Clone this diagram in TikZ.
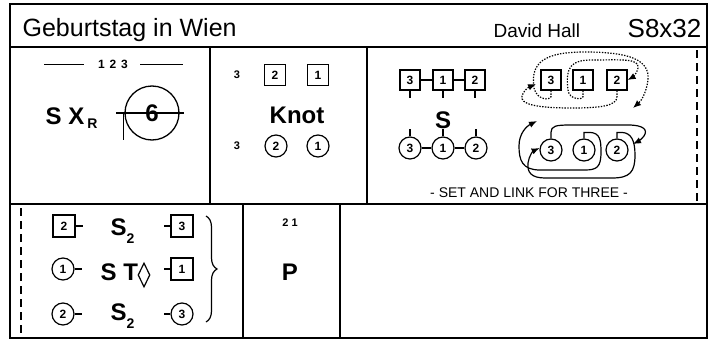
\documentclass[tikz,border=0pt]{standalone}
\usepackage{fontspec}
\setmainfont{Liberation Sans}
\usetikzlibrary{arrows.meta}
\usetikzlibrary{shapes.geometric}
\usetikzlibrary{decorations.pathreplacing}

\begin{document}
\begin{tikzpicture}[x=1pt, y=-1pt, line width=1.2pt,
	big/.style={font=\fontsize{24}{24}\selectfont\bfseries, inner sep=0pt},
	num/.style={font=\fontsize{11}{11}\selectfont\bfseries, inner sep=0pt},
	sq/.style={draw, minimum size=21pt, inner sep=0pt, font=\fontsize{12}{12}\selectfont\bfseries},
	ci/.style={draw, circle, minimum size=22pt, inner sep=0pt, font=\fontsize{12}{12}\selectfont\bfseries},
	tip/.style={-{Latex[length=8pt,width=6.5pt]}},
	dots/.style={tip, dash pattern=on 1.4pt off 1.4pt},
	cut/.style={dash pattern=on 8pt off 5pt},
	frame/.style={line width=1.4pt}]
\fill[white] (0,0) rectangle (715,340);
\useasboundingbox (0,0) rectangle (715,340);
\draw[frame] (10,4) rectangle (707,338);
\draw[frame] (10,47) -- (707,47) (10,204) -- (707,204)
	(210,47) -- (210,204) (367,47) -- (367,204)
	(243,204) -- (243,338) (340,204) -- (340,338);

\node[anchor=base west, inner sep=0pt, font=\fontsize{25}{25}\selectfont] (title) at (22,36) {Geburtstag in Wien};
\node[anchor=base west, inner sep=0pt, font=\fontsize{19}{19}\selectfont] (author) at (493,37) {David Hall};
\node[anchor=base east, inner sep=0pt, font=\fontsize{26}{26}\selectfont] (code) at (702,37) {S8x32};

\node[num, font=\fontsize{12}{12}\selectfont\bfseries] (count) at (113,64) {1\hspace{1.5pt} 2\hspace{1.5pt} 3};
\draw[line width=0.8pt] ([xshift=-14pt]count.west) -- ++(-40,0)
	([xshift=12pt]count.east) -- ++(43,0);
\node[big, anchor=base west] (sx) at (45,124) {S X\hspace{3pt}\raisebox{-4pt}{\fontsize{14}{14}\selectfont R}};
\node[big, draw, circle, minimum size=54pt, line width=1.3pt] (six) at (152,113) {6};
\draw ([xshift=-8pt]six.west) -- ([xshift=4pt]six.east);
\draw ([xshift=-1pt]six.west) -- ++(0,27);

\node[num] (kn3a) at (237,75) {3};
\node[sq] (kns2) at (275,75) {2};
\node[sq] (kns1) at (318,75) {1};
\node[big] (knot) at (297,115) {Knot};
\node[num] (kn3b) at (237,146) {3};
\node[ci] (knc2) at (276,146) {2};
\node[ci] (knc1) at (318,146) {1};

\node[sq, minimum size=20pt] (ls3) at (410,80) {3};
\node[sq, minimum size=20pt] (ls1) at (443,80) {1};
\node[sq, minimum size=20pt] (ls2) at (475,80) {2};
\draw (ls3) -- (ls1) (ls1) -- (ls2);
\draw (ls3.south) -- ++(0,7) (ls1.south) -- ++(0,7) (ls2.south) -- ++(0,7);
\node[big] (set) at (443,120) {S};
\node[ci] (lc3) at (410,148) {3};
\node[ci] (lc1) at (443,148) {1};
\node[ci] (lc2) at (476,148) {2};
\draw (lc3) -- (lc1) (lc1) -- (lc2);
\draw (lc3.north) -- ++(0,-7) (lc1.north) -- ++(0,-7) (lc2.north) -- ++(0,-7);

\node[sq, minimum size=20pt] (ds3) at (551,80) {3};
\node[sq, minimum size=20pt] (ds1) at (583,80) {1};
\node[sq, minimum size=20pt] (ds2) at (617,80) {2};
\coordinate (ta) at (633,108);
\coordinate (tc) at (536,84);
\draw[dots] (ds3.south) -- ++(0,6) .. controls (551,100) and (537,101) .. (534,88)
	.. controls (530,62) and (545,52) .. (585,52) .. controls (630,52) and (650,60) .. (648,80)
	.. controls (646,94) and (641,101) .. (ta);
\draw[dots] (ds1.south) -- ++(0,6) .. controls (583,100) and (569,100) .. (568,90)
	.. controls (565,66) and (572,60) .. (592,60) .. controls (620,60) and (640,58) .. (638,68)
	.. controls (637,73) and (633,77) .. (ds2.east);
\draw[dots] (ds2.south) -- ++(0,6) .. controls (617,106) and (600,108) .. (572,108)
	.. controls (535,108) and (520,104) .. (522,96) .. controls (523,91) and (529,87) .. (tc);

\node[ci] (dc3) at (551,150) {3};
\node[ci] (dc1) at (584,150) {1};
\node[ci] (dc2) at (617,150) {2};
\coordinate (td) at (633,144);
\coordinate (te) at (537,121);
\draw[tip] (dc3.north) -- ++(0,-6) .. controls (551,126) and (556,125) .. (570,125) -- (628,125)
	.. controls (644,125) and (648,130) .. (644,136) .. controls (641,140) and (637,142) .. (td);
\draw[tip] (dc1.north) -- ++(0,-6) -- ++(6,0) .. controls (600,133) and (601,140) .. (601,152)
	.. controls (601,167) and (597,170) .. (585,170) -- (540,170)
	.. controls (522,170) and (519,160) .. (519,146) .. controls (519,133) and (527,126) .. (te);
\draw[tip] (dc2.north) -- ++(0,-6) -- ++(5,0) .. controls (631,133) and (635,140) .. (635,155)
	.. controls (635,172) and (630,178) .. (612,178) -- (545,178)
	.. controls (531,178) and (527,172) .. (528,163) .. controls (529,156) and (533,151) .. (dc3.170);
\node[inner sep=0pt, font=\fontsize{14}{14}\selectfont] (motto) at (529,193) {- SET AND LINK FOR THREE -};
\draw[cut] (697,50) -- (697,202);

\draw[cut] (21,208) -- (21,338);
\node[sq, minimum size=22pt] (a2) at (64,226) {2};
\draw (a2.east) -- ++(7,0);
\node[big, anchor=base west] (as) at (110,235) {S\raisebox{-8pt}{\fontsize{14}{14}\selectfont 2}};
\node[sq, minimum size=22pt] (a3) at (182,226) {3};
\draw (a3.west) -- ++(-6,0);
\node[ci] (b1) at (63,269) {1};
\draw (b1.east) -- ++(7,0);
\node[big, anchor=base west] (bst) at (100,280) {S T};
\node[draw, diamond, minimum width=12pt, minimum height=24pt, inner sep=0pt] (bd) at (144,275) {};
\node[sq, minimum size=22pt] (b1r) at (182,269) {1};
\draw (b1r.west) -- ++(-6,0);
\node[ci] (c2) at (63,314) {2};
\draw (c2.east) -- ++(7,0);
\node[big, anchor=base west] (cs) at (110,320) {S\raisebox{-8pt}{\fontsize{14}{14}\selectfont 2}};
\node[ci] (c3) at (182,314) {3};
\draw (c3.west) -- ++(-6,0);
\draw[decorate, decoration={brace, amplitude=11pt}] (206,216) -- (206,322);

\node[num] (pnum) at (290,223) {2 1};
\node[big] (pp) at (290,272) {P};
\end{tikzpicture}
\end{document}
